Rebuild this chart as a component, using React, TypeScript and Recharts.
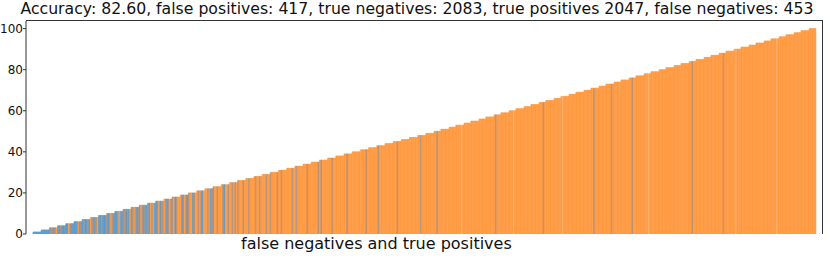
import React from 'react';
import { BarChart, Bar, XAxis, YAxis, Cell } from 'recharts';

// score level of each step (sorted scores)
const levels = [
  1, 2, 3, 4, 5, 6, 7, 8, 9, 10, 11, 12, 13, 14, 15, 16, 17, 18, 19, 20,
  21, 22, 23, 24, 25, 26, 27, 28, 29, 30, 31, 32, 33, 34, 35, 36, 37, 38, 39, 40,
  41, 42, 43, 44, 45, 46, 47, 48, 49, 50, 51, 52, 53, 54, 55, 56, 57, 58, 59, 60,
  61, 62, 63, 64, 65, 66, 67, 68, 69, 70, 71, 72, 73, 74, 75, 76, 77, 78, 79, 80,
  81, 82, 83, 84, 85, 86, 87, 88, 89, 90, 91, 92, 93, 94, 95, 96, 97, 98, 99, 100,
];

// bars inside each step: B = false negative, O = true positive, M = both mixed, L = light
const stepColors = [
  'BBBBBB', 'BBBBBB', 'BMMBMO', 'BBMBBB', 'BBOMBB', 'BBBOBM', 'BMBBMB', 'OMMBMO', 'BBMBBB', 'MBMOMB',
  'BBMOBB', 'MMBMBO', 'BMOMBM', 'BOMBMB', 'MBOMOB', 'BMOBMM', 'OMBMOM', 'MOBMOO', 'OBMOMB', 'MOOBMO',
  'OMOMBO', 'OOMOBM', 'MOOMOO', 'OMBOOM', 'OOMOMO', 'MOOOMO', 'OOMOOO', 'OMOOMO', 'OOOMOO', 'MOOOOM',
  'OOMOOO', 'OOOOMO', 'OMOOOO', 'OOOMOO', 'OOOOOM', 'OMOOOO', 'OOOMOO', 'OOOOOO', 'OOMOOO', 'OOOOOO',
  'OOOOMO', 'OOOOOO', 'OMOOOO', 'OOOOOO', 'OOOMOO', 'OOOOOO', 'OOOOOO', 'OOMOOO', 'OOOOOO', 'OOMOO',
  'OOOOOO', 'OOOOO', 'OOOOLO', 'OOOOO', 'OOOOOO', 'OOOOO', 'OOOOOO', 'OMOOO', 'OOOOOO', 'OOOLO',
  'OOOOOO', 'OOOOO', 'OOOOOO', 'OOOMO', 'OOOOOO', 'OOOOO', 'OLOOOO', 'OOOOO', 'OOOOOO', 'OOOOO',
  'OOMOOO', 'OOOOO', 'OOOOMO', 'OOOOO', 'OOOOOO', 'OOMOO', 'OOOOOO', 'OOOLO', 'OOOOOO', 'OOOOO',
  'OOOOOO', 'OOOOO', 'OOOOOO', 'OOMOO', 'OOOOOO', 'OOOOO', 'OOOOOO', 'OOOMO', 'OOOOOO', 'OLOOO',
  'OOOOOO', 'OOOOO', 'OOOOOO', 'OOOOO', 'OOOOLO', 'OOOOO', 'OOOOOO', 'OOOOO', 'OOOOOO', 'OOOOO',
];

const yTicks = [0, 20, 40, 60, 80, 100];

const title =
  'Accuracy: 82.60, false positives: 417, true negatives: 2083, true positives 2047, false negatives: 453';
const xLabel = 'false negatives and true positives';

const COLORS: Record<string, string> = {
  B: '#5b9bc9',
  O: '#ff9a41',
  M: '#b38f78',
  L: '#ffab62',
};

const FONT = '"DejaVu Sans", sans-serif';

export default function App() {
  const data: { idx: number; value: number; code: string }[] = [];
  levels.forEach((lv, i) => {
    for (const c of stepColors[i]) {
      data.push({ idx: data.length, value: lv, code: c });
    }
  });

  return (
    <div style={{ position: 'absolute', left: 0, top: 0, width: 830, height: 261, fontFamily: FONT }}>
      <div
        style={{
          position: 'absolute',
          left: 0,
          top: 0,
          width: 826,
          paddingLeft: 4,
          textAlign: 'center',
          fontSize: 15.7,
          lineHeight: '18px',
          color: '#111',
          whiteSpace: 'nowrap',
        }}
      >
        {title}
      </div>
      <BarChart
        width={830}
        height={261}
        data={data}
        margin={{ top: 21, right: 7, bottom: 27, left: 0 }}
        barCategoryGap={0}
        barGap={0}
      >
        <XAxis
          dataKey="idx"
          type="category"
          tick={false}
          tickLine={false}
          height={0}
          padding={{ left: 7, right: 7 }}
          axisLine={{ stroke: '#333' }}
        />
        <YAxis
          domain={[0, 103.7]}
          ticks={yTicks}
          width={26}
          tickSize={3}
          tickMargin={0}
          axisLine={{ stroke: '#333' }}
          tickLine={{ stroke: '#333' }}
          tick={{ fontSize: 12, fill: '#111', fontFamily: FONT }}
          allowDataOverflow
        />
        <Bar dataKey="value" barSize={2} isAnimationActive={false}>
          {data.map((d) => (
            <Cell key={d.idx} fill={COLORS[d.code]} stroke={COLORS[d.code]} strokeWidth={0.7} />
          ))}
        </Bar>
      </BarChart>
      {/* top and right frame lines */}
      <div
        style={{
          position: 'absolute',
          left: 26,
          top: 20,
          width: 797,
          height: 214,
          boxSizing: 'border-box',
          borderTop: '1px solid #333',
          borderRight: '1px solid #333',
          pointerEvents: 'none',
        }}
      />
      <div
        style={{
          position: 'absolute',
          left: 241,
          top: 235,
          fontSize: 16,
          lineHeight: '18px',
          color: '#111',
          whiteSpace: 'nowrap',
        }}
      >
        {xLabel}
      </div>
    </div>
  );
}
